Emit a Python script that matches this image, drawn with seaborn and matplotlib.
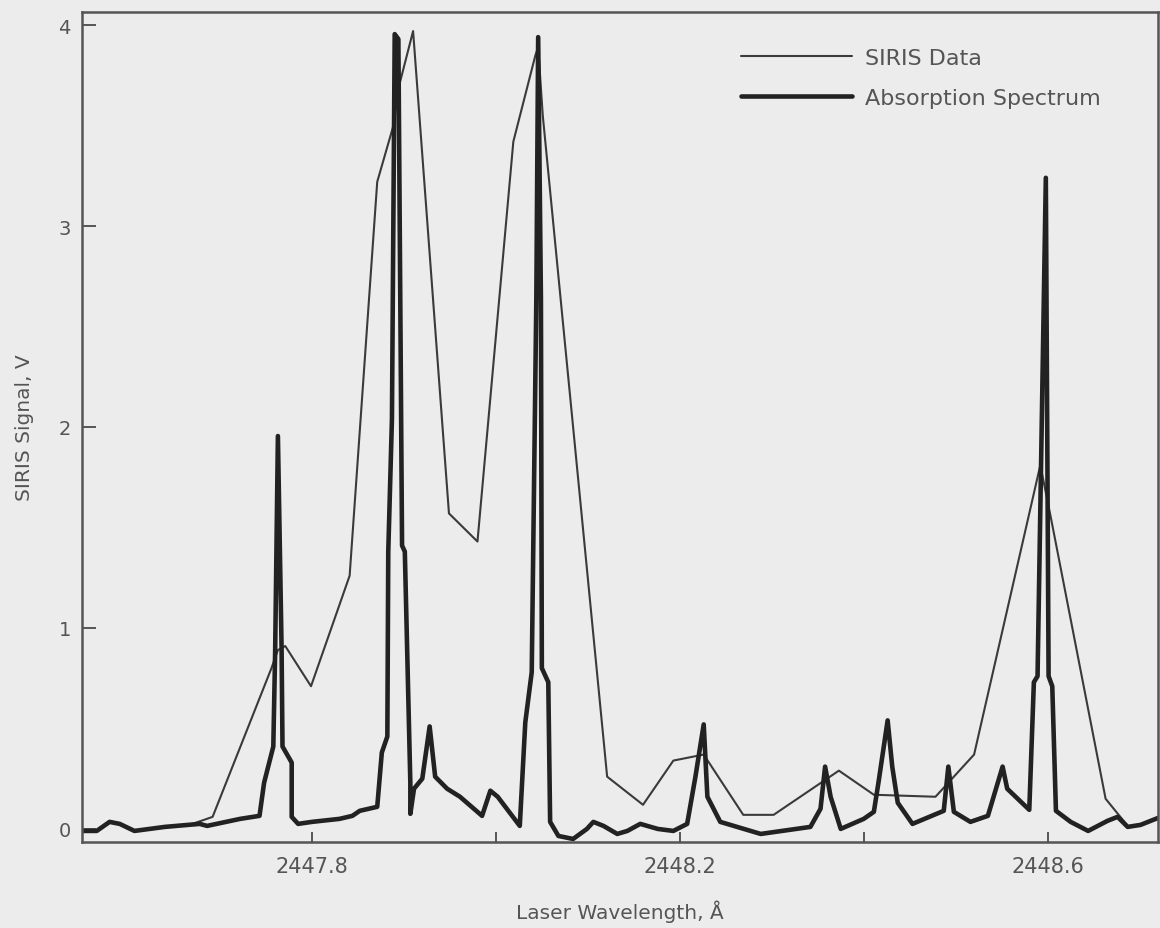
import numpy as np
import pandas as pd
import matplotlib
matplotlib.use('Agg')
import matplotlib.pyplot as plt
import seaborn as sns

sns.set_style('white')
plt.rcParams['font.family'] = ['DejaVu Sans']

# SIRIS data (thin line), wavelength in Angstrom, signal in V
siris_wl = [2447.667, 2447.692, 2447.756, 2447.763, 2447.771, 2447.799, 2447.841,
            2447.871, 2447.888, 2447.896, 2447.910, 2447.949, 2447.980, 2448.019,
            2448.043, 2448.046, 2448.051, 2448.121, 2448.160, 2448.193, 2448.226,
            2448.269, 2448.302, 2448.373, 2448.411, 2448.478, 2448.502, 2448.520,
            2448.592, 2448.603, 2448.663, 2448.687]
siris_v = [0.02, 0.06, 0.80, 0.89, 0.91, 0.71, 1.26,
           3.22, 3.49, 3.72, 3.97, 1.57, 1.43, 3.42,
           3.85, 3.89, 3.55, 0.26, 0.12, 0.34, 0.37,
           0.07, 0.07, 0.29, 0.17, 0.16, 0.28, 0.37,
           1.81, 1.56, 0.15, 0.015]

# absorption spectrum (thick line)
abs_wl = [2447.550, 2447.566, 2447.580, 2447.591, 2447.607, 2447.640, 2447.678, 2447.686,
          2447.722, 2447.743, 2447.748, 2447.758, 2447.760, 2447.763, 2447.767, 2447.768,
          2447.778, 2447.778, 2447.785, 2447.800, 2447.830, 2447.844, 2447.852, 2447.871,
          2447.876, 2447.882, 2447.883, 2447.887, 2447.890, 2447.894, 2447.898, 2447.901,
          2447.907, 2447.907, 2447.911, 2447.920, 2447.928, 2447.934, 2447.947, 2447.961,
          2447.985, 2447.994, 2448.002, 2448.026, 2448.032, 2448.039, 2448.044, 2448.046,
          2448.049, 2448.050, 2448.057, 2448.059, 2448.068, 2448.084, 2448.099, 2448.106,
          2448.117, 2448.132, 2448.143, 2448.157, 2448.176, 2448.193, 2448.208, 2448.217,
          2448.226, 2448.230, 2448.244, 2448.288, 2448.342, 2448.353, 2448.358, 2448.364,
          2448.375, 2448.400, 2448.411, 2448.416, 2448.426, 2448.431, 2448.437, 2448.453,
          2448.487, 2448.492, 2448.498, 2448.516, 2448.535, 2448.551, 2448.556, 2448.580,
          2448.585, 2448.589, 2448.598, 2448.601, 2448.605, 2448.609, 2448.625, 2448.644,
          2448.665, 2448.676, 2448.687, 2448.701, 2448.723]
abs_v = [-0.01, -0.01, 0.035, 0.025, -0.01, 0.01, 0.025, 0.015,
         0.05, 0.065, 0.23, 0.41, 0.88, 1.955, 0.90, 0.41,
         0.33, 0.06, 0.025, 0.035, 0.05, 0.065, 0.09, 0.11,
         0.38, 0.46, 1.38, 2.04, 3.955, 3.93, 1.41, 1.38,
         0.23, 0.075, 0.20, 0.25, 0.51, 0.26, 0.20, 0.16,
         0.065, 0.19, 0.16, 0.015, 0.53, 0.78, 2.64, 3.94,
         2.64, 0.80, 0.73, 0.035, -0.035, -0.05, 0.0, 0.035,
         0.015, -0.025, -0.01, 0.025, 0.0, -0.01, 0.025, 0.26,
         0.52, 0.16, 0.035, -0.025, 0.01, 0.10, 0.31, 0.16,
         0.0, 0.05, 0.085, 0.23, 0.54, 0.31, 0.13, 0.025,
         0.09, 0.31, 0.085, 0.035, 0.065, 0.31, 0.20, 0.095,
         0.73, 0.76, 3.24, 0.76, 0.71, 0.09, 0.035, -0.01,
         0.04, 0.06, 0.01, 0.02, 0.06]

xticks = [2447.8, 2448.0, 2448.2, 2448.4, 2448.6]
xticklabels = ['2447.8', '', '2448.2', '', '2448.6']
yticks = [0, 1, 2, 3, 4]

siris = pd.DataFrame({'wl': siris_wl, 'v': siris_v})
absorp = pd.DataFrame({'wl': abs_wl, 'v': abs_v})

bg = '#ececec'
ink = '#222222'
grey = '#555555'

fig = plt.figure(figsize=(11.6, 9.29), dpi=100, facecolor=bg)
ax = fig.add_axes([0.0707, 0.0926, 0.9276, 0.8934])
ax.set_facecolor(bg)

sns.lineplot(data=siris, x='wl', y='v', ax=ax, sort=False, estimator=None,
             color='#3a3a3a', linewidth=1.5, label='SIRIS Data')
sns.lineplot(data=absorp, x='wl', y='v', ax=ax, sort=False, estimator=None,
             color=ink, linewidth=3.3, label='Absorption Spectrum')

ax.set_xlim(2447.55, 2448.72)
ax.set_ylim(-0.065, 4.065)
ax.set_xticks(xticks)
ax.set_xticklabels(xticklabels)
ax.set_yticks(yticks)
ax.tick_params(axis='y', left=True, direction='in', length=10, width=1.4, color=grey,
               labelsize=14, labelcolor=grey, pad=8)
ax.tick_params(axis='x', bottom=True, direction='in', length=7, width=1.4, color=grey,
               labelsize=15, labelcolor=grey, pad=10)
for s in ax.spines.values():
    s.set_color(grey)
    s.set_linewidth(1.8)

ax.set_xlabel('Laser Wavelength, Å', fontsize=14.5, color=grey, labelpad=17)
ax.set_ylabel('SIRIS Signal, V', fontsize=14.5, color=grey, labelpad=18)

leg = ax.legend(loc='upper left', bbox_to_anchor=(0.612, 0.957), frameon=False,
                fontsize=16, handlelength=5.0, handletextpad=0.6,
                labelspacing=0.9, borderaxespad=0, borderpad=0)
for t in leg.get_texts():
    t.set_color(grey)

fig.savefig('out.png', dpi=100, facecolor=bg)
